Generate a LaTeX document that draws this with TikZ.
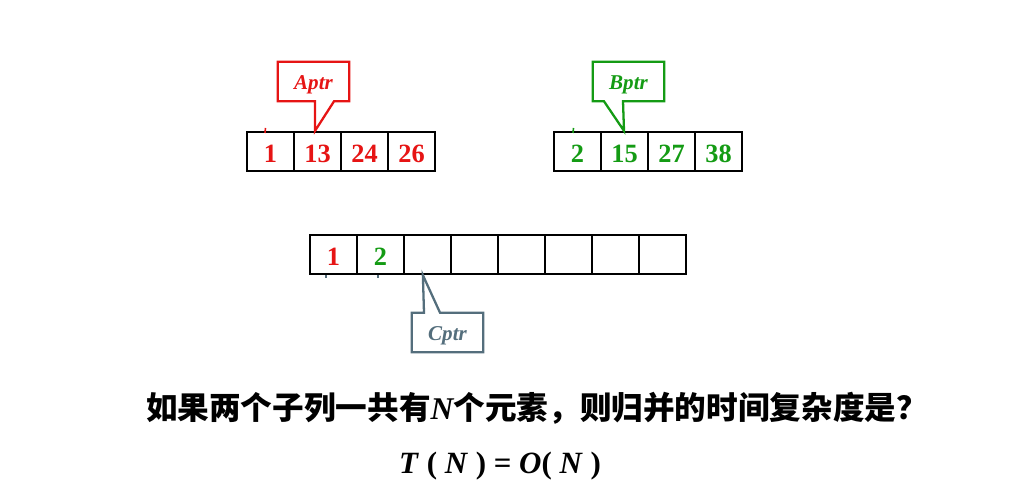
\documentclass[tikz,border=0pt]{standalone}
\usepackage{fontspec}
\setmainfont{Liberation Serif}
\newfontfamily\cjk{Noto Sans CJK SC}
\usepackage{tikz}
\usetikzlibrary{positioning, calc}
\definecolor{aptrred}{RGB}{230, 20, 20}
\definecolor{bptrgreen}{RGB}{20, 155, 20}
\definecolor{cptrgray}{RGB}{84, 110, 124}

\begin{document}
\begin{tikzpicture}[
    x=0.02cm, y=-0.02cm,
    cell/.style={draw, line width=1.3pt, minimum width=0.94cm, minimum height=0.78cm, inner sep=0pt, text height=12.4pt, text depth=0pt, font=\fontsize{15}{18}\selectfont\bfseries},
    ptrbox/.style={minimum width=1.42cm, minimum height=0.78cm, inner sep=0pt, text height=9.5pt, text depth=0pt, font=\fontsize{12}{14}\selectfont\bfseries\itshape},
    ptrline/.style={line width=1.3pt, line join=miter},
    tick/.style={line width=0.9pt}
]
\useasboundingbox (0,0) rectangle (1016,502);

% Arrays A and B
\foreach \v [count=\i from 0] in {1,13,24,26}
    \node[cell, text=aptrred] (A\i) at (270.5+47*\i,151.5) {\v};
\foreach \v [count=\i from 0] in {2,15,27,38}
    \node[cell, text=bptrgreen] (B\i) at (577.5+47*\i,151.5) {\v};

% Result array C
\foreach \i in {0,...,7}
    \node[cell] (C\i) at (333.5+47*\i,254.5) {};
\node[cell, draw=none, text=aptrred] at (C0) {1};
\node[cell, draw=none, text=bptrgreen] at (C1) {2};

% Pointers
\node[ptrbox, text=aptrred] (aptr) at (313.5,81.5) {Aptr};
\coordinate (atip) at ($(A1.north)+(-2.5,0)$);
\draw[ptrline, aptrred] (aptr.south west) -- (aptr.north west) -- (aptr.north east) -- (aptr.south east)
    -- ($(aptr.south)+(20.5,0)$) -- (atip) -- ($(aptr.south)+(1.5,0)$) -- cycle;

\node[ptrbox, text=bptrgreen] (bptr) at (628.5,81.5) {Bptr};
\coordinate (btip) at ($(B1.north)+(-0.5,0)$);
\draw[ptrline, bptrgreen] (bptr.south west) -- (bptr.north west) -- (bptr.north east) -- (bptr.south east)
    -- ($(bptr.south)+(-5.5,0)$) -- (btip) -- ($(bptr.south)+(-24.5,0)$) -- cycle;

\node[ptrbox, text=cptrgray] (cptr) at (447.5,332.5) {Cptr};
\coordinate (ctip) at ($(C2.south west)+(20,0)$);
\draw[ptrline, cptrgray] (cptr.north west) -- ($(cptr.north)+(-23.5,0)$) -- (ctip) -- ($(cptr.north)+(-7.5,0)$)
    -- (cptr.north east) -- (cptr.south east) -- (cptr.south west) -- cycle;

% small marks
\draw[tick, aptrred] (265.5,128) -- (265,133);
\draw[tick, bptrgreen] (573.5,128) -- (573,133);
\draw[tick, cptrgray] (326,275) -- (326,278);
\draw[tick, cptrgray] (378,275) -- (378,278);

% Question
\node (question) at (537,408) {\fontsize{18}{22}\selectfont\bfseries\cjk 如果两个子列一共有{\rmfamily\bfseries\itshape N}个元素，则归并的时间复杂度是？};
\node (answer) at (500,466) {\fontsize{17.6}{22}\selectfont\bfseries \textit{T} ( \textit{N} ) = \textit{O}( \textit{N} )};

\end{tikzpicture}
\end{document}
